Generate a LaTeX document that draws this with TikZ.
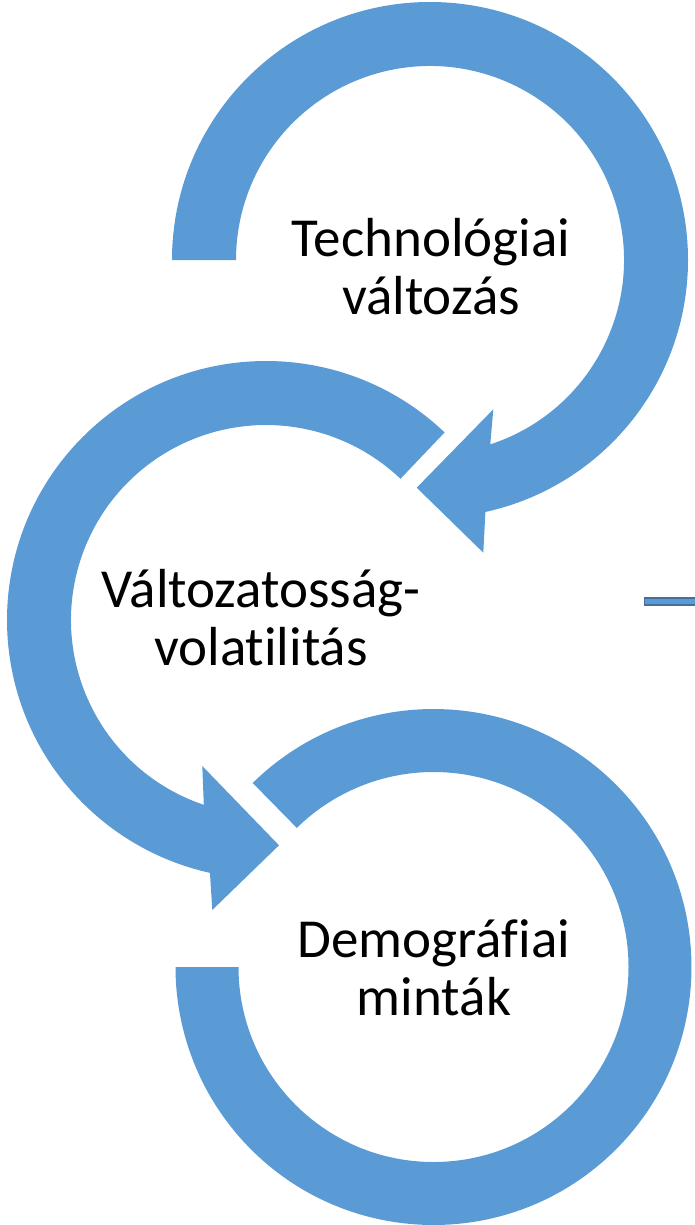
\documentclass[tikz,border=0pt]{standalone}
\usepackage{fontspec}
\setmainfont[RawFeature={-liga;-clig;-calt;-dlig}]{Carlito}
\usetikzlibrary{calc}
\definecolor{ringblue}{HTML}{5B9BD5}
\definecolor{barborder}{HTML}{41719C}
\tikzset{
  ring/.style={fill=ringblue, draw=none},
  lbl/.style={align=center, text=black, inner sep=0pt, font=\fontsize{55}{58}\selectfont}
}
\begin{document}
\begin{tikzpicture}[x=1pt, y=-1pt]
\useasboundingbox (0,0) rectangle (694,1225);
\coordinate (C1) at (430,260);
\coordinate (C2) at (266,620);
\coordinate (C3) at (433.5,967);
% arrowhead points
\coordinate (A1a) at (483.3,552.7);
\coordinate (A1t) at (416.7,487.7);
\coordinate (A1b) at (493.3,409.3);
\coordinate (A2a) at (212.3,910);
\coordinate (A2t) at (279,845.3);
\coordinate (A2b) at (202.3,766);
% ring 1
\fill[ring] ($(C1)+(180:258)$) arc[start angle=180, end angle=437.6, radius=258]
  -- (A1a) -- (A1t) -- (A1b) -- ($(C1)+(71.9:194)$)
  arc[start angle=431.9, end angle=180, radius=194] -- cycle;
% ring 2
\fill[ring] ($(C2)+(-46.4:259)$) arc[start angle=-46.4, end angle=-257.5, radius=259]
  -- (A2a) -- (A2t) -- (A2b) -- ($(C2)+(108.6:195)$)
  arc[start angle=-251.4, end angle=-46.4, radius=195] -- cycle;
% ring 3
\fill[ring] ($(C3)+(225.5:258)$) arc[start angle=225.5, end angle=540, radius=258]
  -- ($(C3)+(180:195)$) arc[start angle=540, end angle=225.5, radius=195] -- cycle;
% small bar at right edge
\coordinate (B1) at (644.5,598.2);
\coordinate (B2) at (696,604.8);
\draw[fill=ringblue, draw=barborder, line width=1.5pt] (B1) rectangle (B2);
% labels
\node[lbl] (t1) at (431,267) {Technológiai\\változás};
\node[lbl] (t2) at (261,618) {Változatosság-\\volatilitás};
\node[lbl] (t3) at (434,968) {Demográfiai\\minták};
\end{tikzpicture}
\end{document}
